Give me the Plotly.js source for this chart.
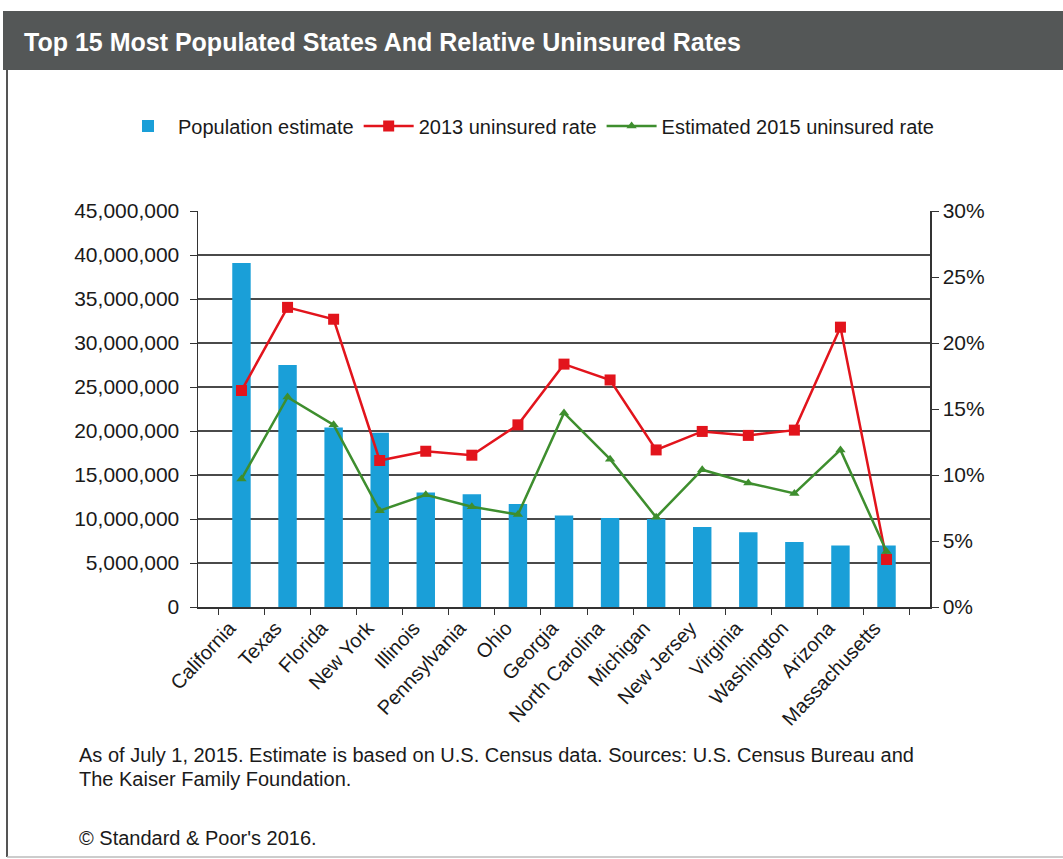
<!DOCTYPE html>
<html>
<head>
<meta charset="utf-8">
<script src="https://cdn.plot.ly/plotly-3.0.1.min.js"></script>
<style>
html,body{margin:0;padding:0;background:#fff;}
#chart{width:1063px;height:859px;}
</style>
</head>
<body>
<div id="chart"></div>
<script>
const states = ["California","Texas","Florida","New York","Illinois","Pennsylvania","Ohio","Georgia","North Carolina","Michigan","New Jersey","Virginia","Washington","Arizona","Massachusetts"];
const population = [39100000,27500000,20400000,19800000,13000000,12800000,11700000,10400000,10100000,10000000,9100000,8500000,7400000,7000000,7000000];
const rate2013 = [0.164,0.227,0.218,0.111,0.118,0.115,0.138,0.184,0.172,0.119,0.133,0.130,0.134,0.212,0.036];
const rate2015 = [0.097,0.159,0.138,0.073,0.085,0.076,0.070,0.147,0.112,0.068,0.104,0.094,0.086,0.119,0.042];
const leftTicks = [0,5000000,10000000,15000000,20000000,25000000,30000000,35000000,40000000,45000000];
const rightTicks = [0,0.05,0.10,0.15,0.20,0.25,0.30];

const W = 1063, H = 859;
const L = 198, R = 930, T = 211, B = 607;
const px = x => (x - L) / (R - L);
const py = y => (B - y) / (B - T);
const FONT = "Liberation Sans, Arial, sans-serif";

const traces = [
  {type:"bar", name:"Population estimate", x:states, y:population, marker:{color:"#1a9fd8"}, yaxis:"y"},
  {type:"scatter", mode:"lines+markers", name:"2013 uninsured rate", x:states, y:rate2013, yaxis:"y2",
   line:{color:"#e2141c", width:2.5}, marker:{symbol:"square", size:11, color:"#e2141c"}},
  {type:"scatter", mode:"lines+markers", name:"Estimated 2015 uninsured rate", x:states, y:rate2015, yaxis:"y2",
   line:{color:"#3e8e2e", width:2.5}, marker:{symbol:"triangle-up", size:9, color:"#3e8e2e"}}
];

const layout = {
  width: W, height: H,
  paper_bgcolor:"#fff", plot_bgcolor:"rgba(0,0,0,0)",
  margin:{l:L, r:W-R, t:T, b:H-B, pad:0},
  font:{family:FONT, color:"#1a1a1a", size:20},
  title:{text:"<b>Top 15 Most Populated States And Relative Uninsured Rates</b>",
    xref:"container", yref:"container", x:24/W, xanchor:"left", y:1-42/H, yanchor:"middle",
    font:{family:FONT, size:25, color:"#ffffff"}},
  bargap:0.6,
  showlegend:true,
  legend:{orientation:"h", xref:"paper", yref:"paper", x:px(118), xanchor:"left", y:py(126), yanchor:"middle",
    font:{size:20, family:FONT}, traceorder:"normal", itemwidth:50, bgcolor:"rgba(0,0,0,0)"},
  xaxis:{type:"category", tickangle:-47, tickson:"boundaries", ticks:"outside", ticklen:6, tickcolor:"#333",
    ticklabelshift:-12,
    showline:true, linecolor:"#333", linewidth:1.5, showgrid:false, tickfont:{size:20, color:"#1a1a1a"}, automargin:false},
  yaxis:{range:[0,45000000], tickvals:leftTicks, tickformat:",d", ticks:"outside", ticklen:7, tickcolor:"#333",
    ticklabelstandoff:6,
    showline:true, linecolor:"#333", linewidth:1.5, showgrid:true, gridcolor:"#4a4a4a", gridwidth:1.5,
    zeroline:false, tickfont:{size:21, color:"#1a1a1a"}, automargin:false},
  yaxis2:{range:[0,0.30], tickvals:rightTicks, tickformat:".0%", overlaying:"y", side:"right",
    ticks:"outside", ticklen:7, tickcolor:"#333", showline:true, linecolor:"#333", linewidth:1.5,
    showgrid:false, zeroline:false, tickfont:{size:21, color:"#1a1a1a"}, automargin:false},
  shapes:[
    {type:"rect", xref:"paper", yref:"paper", x0:px(3), x1:px(1063), y0:py(70), y1:py(11),
     fillcolor:"#545757", line:{width:0}, layer:"below"},
    {type:"line", xref:"paper", yref:"paper", x0:px(7), x1:px(7), y0:py(70), y1:py(857),
     line:{color:"#555", width:2}},
    {type:"line", xref:"paper", yref:"paper", x0:px(7), x1:px(1063), y0:py(857), y1:py(857),
     line:{color:"#bbb", width:1.5}}
  ],
  annotations:[
    {xref:"paper", yref:"paper", x:px(77), y:py(755), xanchor:"left", yanchor:"middle", showarrow:false,
     text:"As of July 1, 2015. Estimate is based on U.S. Census data. Sources: U.S. Census Bureau and",
     font:{size:20, color:"#1a1a1a"}},
    {xref:"paper", yref:"paper", x:px(77), y:py(779), xanchor:"left", yanchor:"middle", showarrow:false,
     text:"The Kaiser Family Foundation.", font:{size:20, color:"#1a1a1a"}},
    {xref:"paper", yref:"paper", x:px(77), y:py(838), xanchor:"left", yanchor:"middle", showarrow:false,
     text:"© Standard & Poor's 2016.", font:{size:20, color:"#1a1a1a"}}
  ]
};

Plotly.newPlot("chart", traces, layout, {displayModeBar:false, staticPlot:true});
</script>
</body>
</html>
